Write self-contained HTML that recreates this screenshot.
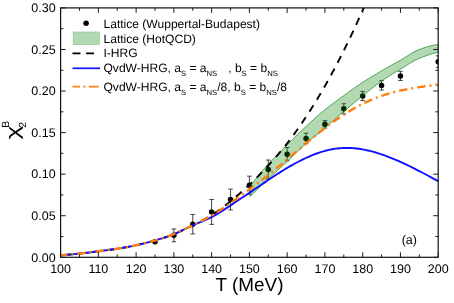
<!DOCTYPE html>
<html><head><meta charset="utf-8"><title>chart</title>
<style>html,body{margin:0;padding:0;background:#fff;}body{width:454px;height:303px;overflow:hidden;font-family:"Liberation Sans",sans-serif;}svg{display:block;will-change:transform;}svg text{text-rendering:geometricPrecision;}</style></head>
<body>
<svg width="454" height="303" viewBox="0 0 454 303" font-family="'Liberation Sans', sans-serif" fill="#000">
<rect x="0" y="0" width="454" height="303" fill="#fff"/>
<defs><clipPath id="cp"><rect x="60.6" y="7.9" width="377.59999999999997" height="249.4"/></clipPath><clipPath id="cp2"><rect x="60.6" y="7.9" width="377.59999999999997" height="249.4"/></clipPath></defs>
<g clip-path="url(#cp2)">
<g stroke="#262626" stroke-width="0.85" fill="none">
<path d="M155.00,241.26V242.42M152.70,241.26h4.6M152.70,242.42h4.6"/>
<path d="M173.88,228.95V241.75M171.58,228.95h4.6M171.58,241.75h4.6"/>
<path d="M192.76,214.49V233.94M190.46,214.49h4.6M190.46,233.94h4.6"/>
<path d="M211.64,199.44V224.38M209.34,199.44h4.6M209.34,224.38h4.6"/>
<path d="M230.52,189.13V209.91M228.22,189.13h4.6M228.22,209.91h4.6"/>
<path d="M249.40,176.16V194.28M247.10,176.16h4.6M247.10,194.28h4.6"/>
<path d="M268.28,160.03V178.82M265.98,160.03h4.6M265.98,178.82h4.6"/>
<path d="M287.16,147.56V160.87M284.86,147.56h4.6M284.86,160.87h4.6"/>
<path d="M306.04,133.18V143.66M303.74,133.18h4.6M303.74,143.66h4.6"/>
<path d="M324.92,120.63V128.11M322.62,120.63h4.6M322.62,128.11h4.6"/>
<path d="M343.80,103.75V113.89M341.50,103.75h4.6M341.50,113.89h4.6"/>
<path d="M362.68,91.45V100.59M360.38,91.45h4.6M360.38,100.59h4.6"/>
<path d="M381.56,80.72V90.04M379.26,80.72h4.6M379.26,90.04h4.6"/>
<path d="M400.44,71.33V80.48M398.14,71.33h4.6M398.14,80.48h4.6"/>
<path d="M438.20,55.87V67.51M435.90,55.87h4.6M435.90,67.51h4.6"/>
</g>
<g fill="#000">
<circle cx="155.00" cy="241.84" r="2.75"/>
<circle cx="173.88" cy="235.35" r="2.75"/>
<circle cx="192.76" cy="224.21" r="2.75"/>
<circle cx="211.64" cy="211.91" r="2.75"/>
<circle cx="230.52" cy="199.52" r="2.75"/>
<circle cx="249.40" cy="185.22" r="2.75"/>
<circle cx="268.28" cy="169.43" r="2.75"/>
<circle cx="287.16" cy="154.21" r="2.75"/>
<circle cx="306.04" cy="138.42" r="2.75"/>
<circle cx="324.92" cy="124.37" r="2.75"/>
<circle cx="343.80" cy="108.82" r="2.75"/>
<circle cx="362.68" cy="96.02" r="2.75"/>
<circle cx="381.56" cy="85.38" r="2.75"/>
<circle cx="400.44" cy="75.90" r="2.75"/>
<circle cx="438.20" cy="61.69" r="2.75"/>
</g></g>
<g clip-path="url(#cp)" fill="none" stroke-linejoin="round">
<polygon points="250.16,186.22 251.74,184.15 253.32,182.10 254.90,180.08 256.48,178.08 258.06,176.12 259.64,174.18 261.22,172.27 262.80,170.39 264.38,168.54 265.96,166.72 267.54,164.94 269.12,163.18 270.70,161.47 272.28,159.80 273.86,158.15 275.44,156.54 277.02,154.94 278.60,153.36 280.18,151.80 281.76,150.24 283.34,148.68 284.92,147.13 286.50,145.56 288.08,143.99 289.66,142.41 291.24,140.83 292.82,139.26 294.40,137.69 295.98,136.13 297.56,134.57 299.14,133.03 300.72,131.49 302.30,129.97 303.88,128.47 305.46,126.99 307.04,125.52 308.62,124.06 310.20,122.60 311.78,121.15 313.36,119.72 314.94,118.29 316.52,116.89 318.10,115.50 319.68,114.12 321.26,112.77 322.84,111.44 324.42,110.14 326.01,108.86 327.59,107.61 329.17,106.38 330.75,105.17 332.33,103.98 333.91,102.81 335.49,101.64 337.07,100.49 338.65,99.34 340.23,98.19 341.81,97.05 343.39,95.90 344.97,94.76 346.55,93.61 348.13,92.46 349.71,91.32 351.29,90.18 352.87,89.05 354.45,87.92 356.03,86.81 357.61,85.71 359.19,84.63 360.77,83.57 362.35,82.52 363.93,81.49 365.51,80.48 367.09,79.49 368.67,78.51 370.25,77.54 371.83,76.58 373.41,75.63 374.99,74.69 376.57,73.76 378.15,72.83 379.73,71.90 381.31,70.98 382.89,70.06 384.47,69.15 386.05,68.25 387.63,67.35 389.21,66.46 390.79,65.58 392.37,64.70 393.95,63.82 395.53,62.94 397.11,62.06 398.69,61.17 400.27,60.28 401.86,59.37 403.44,58.41 405.02,57.42 406.60,56.42 408.18,55.41 409.76,54.42 411.34,53.45 412.92,52.53 414.50,51.65 416.08,50.85 417.66,50.12 419.24,49.50 420.82,48.93 422.40,48.38 423.98,47.85 425.56,47.34 427.14,46.85 428.72,46.40 430.30,45.97 431.88,45.59 433.46,45.24 435.04,44.94 436.62,44.68 438.20,44.48 438.20,52.29 436.62,52.62 435.04,52.99 433.46,53.40 431.88,53.85 430.30,54.32 428.72,54.83 427.14,55.37 425.56,55.93 423.98,56.52 422.40,57.13 420.82,57.75 419.24,58.40 417.66,59.09 416.08,59.85 414.50,60.67 412.92,61.54 411.34,62.45 409.76,63.40 408.18,64.37 406.60,65.35 405.02,66.34 403.44,67.33 401.86,68.31 400.27,69.27 398.69,70.22 397.11,71.16 395.53,72.11 393.95,73.07 392.37,74.03 390.79,75.01 389.21,76.00 387.63,77.00 386.05,78.02 384.47,79.07 382.89,80.14 381.31,81.23 379.73,82.36 378.15,83.52 376.57,84.72 374.99,85.94 373.41,87.18 371.83,88.44 370.25,89.71 368.67,90.99 367.09,92.28 365.51,93.57 363.93,94.85 362.35,96.12 360.77,97.39 359.19,98.67 357.61,99.95 356.03,101.23 354.45,102.52 352.87,103.82 351.29,105.12 349.71,106.43 348.13,107.75 346.55,109.07 344.97,110.41 343.39,111.75 341.81,113.12 340.23,114.51 338.65,115.91 337.07,117.32 335.49,118.75 333.91,120.17 332.33,121.59 330.75,123.01 329.17,124.42 327.59,125.81 326.01,127.18 324.42,128.53 322.84,129.85 321.26,131.14 319.68,132.42 318.10,133.68 316.52,134.94 314.94,136.20 313.36,137.46 311.78,138.73 310.20,140.03 308.62,141.35 307.04,142.70 305.46,144.09 303.88,145.51 302.30,146.98 300.72,148.47 299.14,149.99 297.56,151.52 295.98,153.07 294.40,154.62 292.82,156.17 291.24,157.71 289.66,159.24 288.08,160.75 286.50,162.23 284.92,163.70 283.34,165.16 281.76,166.61 280.18,168.05 278.60,169.49 277.02,170.93 275.44,172.37 273.86,173.81 272.28,175.26 270.70,176.73 269.12,178.20 267.54,179.69 265.96,181.19 264.38,182.69 262.80,184.20 261.22,185.72 259.64,187.25 258.06,188.78 256.48,190.32 254.90,191.86 253.32,193.41 251.74,194.97 250.16,196.53" fill="rgb(0,128,0)" fill-opacity="0.3" stroke="rgb(20,140,30)" stroke-opacity="0.8" stroke-width="0.9"/>
<path d="M60.60,255.22 L62.16,255.12 L63.71,255.01 L65.27,254.89 L66.82,254.77 L68.38,254.64 L69.94,254.50 L71.49,254.36 L73.05,254.21 L74.60,254.06 L76.16,253.91 L77.72,253.75 L79.27,253.58 L80.83,253.41 L82.38,253.24 L83.94,253.06 L85.50,252.88 L87.05,252.70 L88.61,252.52 L90.16,252.33 L91.72,252.14 L93.27,251.95 L94.83,251.76 L96.39,251.56 L97.94,251.37 L99.50,251.17 L101.05,250.97 L102.61,250.77 L104.17,250.57 L105.72,250.37 L107.28,250.16 L108.83,249.95 L110.39,249.74 L111.95,249.52 L113.50,249.30 L115.06,249.07 L116.61,248.83 L118.17,248.59 L119.73,248.35 L121.28,248.09 L122.84,247.83 L124.39,247.56 L125.95,247.28 L127.51,247.00 L129.06,246.70 L130.62,246.40 L132.17,246.08 L133.73,245.76 L135.29,245.43 L136.84,245.09 L138.40,244.73 L139.95,244.37 L141.51,243.99 L143.06,243.61 L144.62,243.22 L146.18,242.82 L147.73,242.41 L149.29,242.00 L150.84,241.58 L152.40,241.15 L153.96,240.72 L155.51,240.28 L157.07,239.83 L158.62,239.38 L160.18,238.92 L161.74,238.45 L163.29,237.96 L164.85,237.46 L166.40,236.95 L167.96,236.41 L169.52,235.86 L171.07,235.29 L172.63,234.69 L174.18,234.07 L175.74,233.42 L177.30,232.75 L178.85,232.05 L180.41,231.34 L181.96,230.61 L183.52,229.87 L185.08,229.12 L186.63,228.35 L188.19,227.58 L189.74,226.80 L191.30,226.03 L192.85,225.25 L194.41,224.47 L195.97,223.69 L197.52,222.90 L199.08,222.11 L200.63,221.31 L202.19,220.49 L203.75,219.66 L205.30,218.81 L206.86,217.93 L208.41,217.03 L209.97,216.10 L211.53,215.14 L213.08,214.14 L214.64,213.12 L216.19,212.05 L217.75,210.97 L219.31,209.85 L220.86,208.71 L222.42,207.54 L223.97,206.36 L225.53,205.15 L227.09,203.93 L228.64,202.69 L230.20,201.45 L231.75,200.19 L233.31,198.91 L234.87,197.63 L236.42,196.33 L237.98,195.02 L239.53,193.69 L241.09,192.34 L242.64,190.98 L244.20,189.59 L245.76,188.19 L247.31,186.76 L248.87,185.31 L250.42,183.83 L251.98,182.33 L253.54,180.81 L255.09,179.26 L256.65,177.70 L258.20,176.11 L259.76,174.51 L261.32,172.88 L262.87,171.25 L264.43,169.59 L265.98,167.92 L267.54,166.24 L269.10,164.55 L270.65,162.84 L272.21,161.12 L273.76,159.38 L275.32,157.63 L276.88,155.85 L278.43,154.05 L279.99,152.22 L281.54,150.37 L283.10,148.48 L284.66,146.57 L286.21,144.61 L287.77,142.63 L289.32,140.60 L290.88,138.54 L292.44,136.45 L293.99,134.32 L295.55,132.16 L297.10,129.96 L298.66,127.74 L300.21,125.49 L301.77,123.20 L303.33,120.89 L304.88,118.56 L306.44,116.20 L307.99,113.81 L309.55,111.40 L311.11,108.96 L312.66,106.50 L314.22,104.01 L315.77,101.49 L317.33,98.94 L318.89,96.36 L320.44,93.75 L322.00,91.10 L323.55,88.42 L325.11,85.71 L326.67,82.97 L328.22,80.19 L329.78,77.37 L331.33,74.53 L332.89,71.65 L334.45,68.73 L336.00,65.79 L337.56,62.81 L339.11,59.80 L340.67,56.76 L342.23,53.69 L343.78,50.59 L345.34,47.45 L346.89,44.29 L348.45,41.09 L350.00,37.86 L351.56,34.60 L353.12,31.30 L354.67,27.97 L356.23,24.60 L357.78,21.19 L359.34,17.75 L360.90,14.27 L362.45,10.75 L364.01,7.18 L365.56,3.58 L367.12,-0.06 L368.68,-3.75 L370.23,-7.48" stroke="#000" stroke-width="1.9" stroke-dasharray="7.5,6.6" stroke-dashoffset="8.9"/>
<path d="M60.60,255.22 L62.50,255.09 L64.39,254.96 L66.29,254.81 L68.19,254.65 L70.09,254.49 L71.98,254.31 L73.88,254.13 L75.78,253.95 L77.68,253.75 L79.57,253.55 L81.47,253.34 L83.37,253.13 L85.27,252.91 L87.16,252.69 L89.06,252.46 L90.96,252.23 L92.86,252.00 L94.75,251.77 L96.65,251.53 L98.55,251.29 L100.45,251.05 L102.34,250.81 L104.24,250.56 L106.14,250.31 L108.04,250.06 L109.93,249.80 L111.83,249.54 L113.73,249.26 L115.63,248.98 L117.52,248.69 L119.42,248.39 L121.32,248.09 L123.22,247.77 L125.11,247.43 L127.01,247.09 L128.91,246.73 L130.81,246.36 L132.70,245.98 L134.60,245.58 L136.50,245.16 L138.40,244.73 L140.29,244.28 L142.19,243.82 L144.09,243.34 L145.99,242.86 L147.88,242.36 L149.78,241.86 L151.68,241.34 L153.58,240.82 L155.47,240.29 L157.37,239.76 L159.27,239.21 L161.17,238.65 L163.06,238.07 L164.96,237.47 L166.86,236.84 L168.76,236.18 L170.65,235.48 L172.55,234.73 L174.45,233.95 L176.35,233.12 L178.24,232.25 L180.14,231.35 L182.04,230.43 L183.94,229.51 L185.83,228.58 L187.73,227.65 L189.63,226.74 L191.53,225.85 L193.42,225.00 L195.32,224.18 L197.22,223.38 L199.12,222.60 L201.01,221.82 L202.91,221.03 L204.81,220.23 L206.71,219.40 L208.60,218.54 L210.50,217.63 L212.40,216.67 L214.30,215.65 L216.19,214.58 L218.09,213.46 L219.99,212.30 L221.89,211.10 L223.78,209.88 L225.68,208.64 L227.58,207.39 L229.48,206.12 L231.37,204.85 L233.27,203.59 L235.17,202.32 L237.07,201.06 L238.96,199.79 L240.86,198.52 L242.76,197.25 L244.66,195.98 L246.55,194.71 L248.45,193.43 L250.35,192.15 L252.25,190.86 L254.14,189.57 L256.04,188.28 L257.94,186.99 L259.84,185.70 L261.73,184.41 L263.63,183.12 L265.53,181.84 L267.43,180.56 L269.32,179.29 L271.22,178.02 L273.12,176.77 L275.02,175.53 L276.91,174.29 L278.81,173.08 L280.71,171.88 L282.61,170.69 L284.50,169.53 L286.40,168.38 L288.30,167.26 L290.20,166.16 L292.09,165.09 L293.99,164.04 L295.89,163.01 L297.79,162.01 L299.68,161.03 L301.58,160.08 L303.48,159.16 L305.38,158.26 L307.27,157.39 L309.17,156.55 L311.07,155.74 L312.97,154.96 L314.86,154.21 L316.76,153.50 L318.66,152.83 L320.56,152.19 L322.45,151.60 L324.35,151.05 L326.25,150.54 L328.15,150.08 L330.04,149.66 L331.94,149.29 L333.84,148.96 L335.74,148.68 L337.63,148.44 L339.53,148.25 L341.43,148.10 L343.33,148.00 L345.22,147.94 L347.12,147.93 L349.02,147.96 L350.92,148.03 L352.81,148.15 L354.71,148.30 L356.61,148.50 L358.51,148.74 L360.40,149.01 L362.30,149.33 L364.20,149.68 L366.10,150.06 L367.99,150.48 L369.89,150.94 L371.79,151.42 L373.69,151.94 L375.58,152.48 L377.48,153.06 L379.38,153.66 L381.28,154.28 L383.17,154.94 L385.07,155.61 L386.97,156.31 L388.87,157.02 L390.76,157.76 L392.66,158.53 L394.56,159.31 L396.46,160.11 L398.35,160.94 L400.25,161.78 L402.15,162.64 L404.05,163.52 L405.94,164.41 L407.84,165.32 L409.74,166.25 L411.64,167.18 L413.53,168.13 L415.43,169.09 L417.33,170.06 L419.23,171.04 L421.12,172.03 L423.02,173.02 L424.92,174.02 L426.82,175.02 L428.71,176.03 L430.61,177.04 L432.51,178.05 L434.41,179.05 L436.30,180.06 L438.20,181.07" stroke="#1010ff" stroke-width="1.9"/>
<path d="M60.60,255.22 L62.50,255.09 L64.39,254.96 L66.29,254.81 L68.19,254.65 L70.09,254.49 L71.98,254.31 L73.88,254.13 L75.78,253.95 L77.68,253.75 L79.57,253.55 L81.47,253.34 L83.37,253.13 L85.27,252.91 L87.16,252.69 L89.06,252.46 L90.96,252.23 L92.86,252.00 L94.75,251.77 L96.65,251.53 L98.55,251.29 L100.45,251.05 L102.34,250.81 L104.24,250.56 L106.14,250.31 L108.04,250.06 L109.93,249.80 L111.83,249.54 L113.73,249.26 L115.63,248.98 L117.52,248.69 L119.42,248.39 L121.32,248.08 L123.22,247.76 L125.11,247.43 L127.01,247.09 L128.91,246.73 L130.81,246.36 L132.70,245.98 L134.60,245.58 L136.50,245.16 L138.40,244.73 L140.29,244.29 L142.19,243.83 L144.09,243.35 L145.99,242.87 L147.88,242.37 L149.78,241.87 L151.68,241.35 L153.58,240.82 L155.47,240.29 L157.37,239.75 L159.27,239.19 L161.17,238.62 L163.06,238.04 L164.96,237.43 L166.86,236.80 L168.76,236.14 L170.65,235.44 L172.55,234.72 L174.45,233.96 L176.35,233.15 L178.24,232.32 L180.14,231.46 L182.04,230.57 L183.94,229.66 L185.83,228.73 L187.73,227.79 L189.63,226.85 L191.53,225.91 L193.42,224.96 L195.32,224.03 L197.22,223.09 L199.12,222.14 L201.01,221.19 L202.91,220.22 L204.81,219.24 L206.71,218.23 L208.60,217.20 L210.50,216.14 L212.40,215.04 L214.30,213.91 L216.19,212.74 L218.09,211.54 L219.99,210.31 L221.89,209.06 L223.78,207.78 L225.68,206.49 L227.58,205.17 L229.48,203.84 L231.37,202.49 L233.27,201.13 L235.17,199.76 L237.07,198.39 L238.96,197.00 L240.86,195.61 L242.76,194.21 L244.66,192.81 L246.55,191.41 L248.45,190.00 L250.35,188.59 L252.25,187.19 L254.14,185.78 L256.04,184.37 L257.94,182.95 L259.84,181.52 L261.73,180.08 L263.63,178.62 L265.53,177.16 L267.43,175.67 L269.32,174.17 L271.22,172.65 L273.12,171.11 L275.02,169.55 L276.91,167.99 L278.81,166.41 L280.71,164.82 L282.61,163.22 L284.50,161.62 L286.40,160.01 L288.30,158.40 L290.20,156.79 L292.09,155.18 L293.99,153.57 L295.89,151.97 L297.79,150.36 L299.68,148.75 L301.58,147.15 L303.48,145.56 L305.38,143.96 L307.27,142.38 L309.17,140.80 L311.07,139.22 L312.97,137.66 L314.86,136.11 L316.76,134.57 L318.66,133.04 L320.56,131.53 L322.45,130.03 L324.35,128.55 L326.25,127.09 L328.15,125.65 L330.04,124.23 L331.94,122.83 L333.84,121.46 L335.74,120.10 L337.63,118.78 L339.53,117.47 L341.43,116.20 L343.33,114.95 L345.22,113.73 L347.12,112.54 L349.02,111.38 L350.92,110.24 L352.81,109.13 L354.71,108.06 L356.61,107.01 L358.51,105.98 L360.40,104.99 L362.30,104.03 L364.20,103.09 L366.10,102.18 L367.99,101.30 L369.89,100.45 L371.79,99.62 L373.69,98.83 L375.58,98.07 L377.48,97.33 L379.38,96.63 L381.28,95.95 L383.17,95.31 L385.07,94.69 L386.97,94.11 L388.87,93.55 L390.76,93.01 L392.66,92.50 L394.56,92.01 L396.46,91.54 L398.35,91.09 L400.25,90.66 L402.15,90.24 L404.05,89.85 L405.94,89.46 L407.84,89.09 L409.74,88.73 L411.64,88.39 L413.53,88.06 L415.43,87.74 L417.33,87.44 L419.23,87.14 L421.12,86.85 L423.02,86.58 L424.92,86.31 L426.82,86.05 L428.71,85.80 L430.61,85.55 L432.51,85.32 L434.41,85.08 L436.30,84.86 L438.20,84.63" stroke="#ff7f0e" stroke-width="2.4" stroke-dasharray="8.4,4,2,4" stroke-dashoffset="1.7"/>
</g>
<rect x="60.6" y="7.9" width="377.59999999999997" height="249.4" fill="none" stroke="#111" stroke-width="1.2"/>
<path d="M60.60,257.3v-5.0M60.60,7.9v5.0M79.48,257.3v-2.8M79.48,7.9v2.8M98.36,257.3v-5.0M98.36,7.9v5.0M117.24,257.3v-2.8M117.24,7.9v2.8M136.12,257.3v-5.0M136.12,7.9v5.0M155.00,257.3v-2.8M155.00,7.9v2.8M173.88,257.3v-5.0M173.88,7.9v5.0M192.76,257.3v-2.8M192.76,7.9v2.8M211.64,257.3v-5.0M211.64,7.9v5.0M230.52,257.3v-2.8M230.52,7.9v2.8M249.40,257.3v-5.0M249.40,7.9v5.0M268.28,257.3v-2.8M268.28,7.9v2.8M287.16,257.3v-5.0M287.16,7.9v5.0M306.04,257.3v-2.8M306.04,7.9v2.8M324.92,257.3v-5.0M324.92,7.9v5.0M343.80,257.3v-2.8M343.80,7.9v2.8M362.68,257.3v-5.0M362.68,7.9v5.0M381.56,257.3v-2.8M381.56,7.9v2.8M400.44,257.3v-5.0M400.44,7.9v5.0M419.32,257.3v-2.8M419.32,7.9v2.8M438.20,257.3v-5.0M438.20,7.9v5.0M60.6,257.30h5.0M438.2,257.30h-5.0M60.6,236.52h2.8M438.2,236.52h-2.8M60.6,215.73h5.0M438.2,215.73h-5.0M60.6,194.95h2.8M438.2,194.95h-2.8M60.6,174.17h5.0M438.2,174.17h-5.0M60.6,153.38h2.8M438.2,153.38h-2.8M60.6,132.60h5.0M438.2,132.60h-5.0M60.6,111.82h2.8M438.2,111.82h-2.8M60.6,91.03h5.0M438.2,91.03h-5.0M60.6,70.25h2.8M438.2,70.25h-2.8M60.6,49.47h5.0M438.2,49.47h-5.0M60.6,28.68h2.8M438.2,28.68h-2.8M60.6,7.90h5.0M438.2,7.90h-5.0" stroke="#1a1a1a" stroke-width="1.0" fill="none"/>
<g font-size="12.5px">
<text x="60.60" y="273.1" text-anchor="middle">100</text>
<text x="98.36" y="273.1" text-anchor="middle">110</text>
<text x="136.12" y="273.1" text-anchor="middle">120</text>
<text x="173.88" y="273.1" text-anchor="middle">130</text>
<text x="211.64" y="273.1" text-anchor="middle">140</text>
<text x="249.40" y="273.1" text-anchor="middle">150</text>
<text x="287.16" y="273.1" text-anchor="middle">160</text>
<text x="324.92" y="273.1" text-anchor="middle">170</text>
<text x="362.68" y="273.1" text-anchor="middle">180</text>
<text x="400.44" y="273.1" text-anchor="middle">190</text>
<text x="438.20" y="273.1" text-anchor="middle">200</text>
<text x="55.6" y="261.50" text-anchor="end">0.00</text>
<text x="55.6" y="219.93" text-anchor="end">0.05</text>
<text x="55.6" y="178.37" text-anchor="end">0.10</text>
<text x="55.6" y="136.80" text-anchor="end">0.15</text>
<text x="55.6" y="95.23" text-anchor="end">0.20</text>
<text x="55.6" y="53.67" text-anchor="end">0.25</text>
<text x="55.6" y="12.10" text-anchor="end">0.30</text>
</g>
<text x="249.5" y="291" font-size="18.9px" text-anchor="middle">T (MeV)</text>
<g transform="translate(19,129) rotate(-90)"><text transform="translate(-3.5,0) scale(1.42,1)" x="0" y="0" font-size="18.6px" text-anchor="middle">&#967;</text><text x="1.3" y="6.6" font-size="10.4px">2</text><text x="1.2" y="-10.2" font-size="10.4px">B</text></g>
<text x="409.3" y="244" font-size="12.5px" text-anchor="middle">(a)</text>
<circle cx="86.1" cy="23.3" r="2.75"/>
<rect x="73.1" y="31.9" width="26.5" height="12.8" fill="rgb(0,128,0)" fill-opacity="0.3" stroke="rgb(0,128,0)" stroke-opacity="0.3" stroke-width="0.6"/>
<path d="M72.5,53.4H94" stroke="#000" stroke-width="1.7" stroke-dasharray="8,5.6" fill="none"/>
<path d="M72.5,68.3H100" stroke="#1010ff" stroke-width="1.7" fill="none"/>
<path d="M72.5,86.7h7.5m3.3,0h2.1m3.5,0h9.8" stroke="#ff7f0e" stroke-width="1.7" fill="none"/>
<g font-size="12.05px">
<text x="103.5" y="27.6">Lattice (Wuppertal-Budapest)</text>
<text x="103.5" y="42.5">Lattice (HotQCD)</text>
<text x="103.5" y="57.3">I-HRG</text>
<text x="103.5" y="72.2"><tspan font-size="12.05px" dy="0">QvdW-HRG, a</tspan><tspan font-size="7.7px" dy="3.9">S</tspan><tspan font-size="12.05px" dy="-3.9"> = a</tspan><tspan font-size="7.7px" dy="3.9">NS</tspan><tspan x="228.2" font-size="12.05px" dy="-3.9">, b</tspan><tspan font-size="7.7px" dy="3.9">S</tspan><tspan font-size="12.05px" dy="-3.9"> = b</tspan><tspan font-size="7.7px" dy="3.9">NS</tspan></text>
<text x="103.5" y="90.6"><tspan font-size="12.05px" dy="0">QvdW-HRG, a</tspan><tspan font-size="7.7px" dy="3.9">S</tspan><tspan font-size="12.05px" dy="-3.9"> = a</tspan><tspan font-size="7.7px" dy="3.9">NS</tspan><tspan font-size="12.05px" dy="-3.9">/8, b</tspan><tspan font-size="7.7px" dy="3.9">S</tspan><tspan font-size="12.05px" dy="-3.9"> = b</tspan><tspan font-size="7.7px" dy="3.9">NS</tspan><tspan font-size="12.05px" dy="-3.9">/8</tspan></text>
</g>
</svg>
</body></html>
